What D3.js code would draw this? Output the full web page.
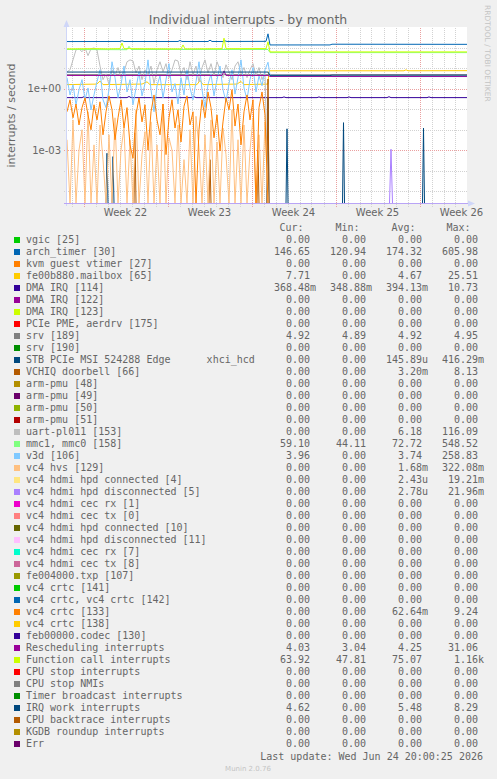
<!DOCTYPE html>
<html>
<head>
<meta charset="utf-8">
<script src="https://cdn.jsdelivr.net/npm/d3@7"></script>
<style>
body { margin: 0; background: #f0f0f0; }
svg { display: block; }
text { font-family: "DejaVu Sans", sans-serif; fill: #666; }
.mono { font-family: "DejaVu Sans Mono", monospace; font-size: 10px; white-space: pre; }
</style>
</head>
<body>
<svg width="497" height="779"></svg>
<script>
// legend rows, in munin order
const names = ["vgic [25]", "arch_timer [30]", "kvm guest vtimer [27]", "fe00b880.mailbox [65]", "DMA IRQ [114]",
  "DMA IRQ [122]", "DMA IRQ [123]", "PCIe PME, aerdrv [175]", "srv [189]", "srv [190]",
  "STB PCIe MSI 524288 Edge      xhci_hcd", "VCHIQ doorbell [66]", "arm-pmu [48]", "arm-pmu [49]", "arm-pmu [50]",
  "arm-pmu [51]", "uart-pl011 [153]", "mmc1, mmc0 [158]", "v3d [106]", "vc4 hvs [129]",
  "vc4 hdmi hpd connected [4]", "vc4 hdmi hpd disconnected [5]", "vc4 hdmi cec rx [1]", "vc4 hdmi cec tx [0]", "vc4 hdmi hpd connected [10]",
  "vc4 hdmi hpd disconnected [11]", "vc4 hdmi cec rx [7]", "vc4 hdmi cec tx [8]", "fe004000.txp [107]", "vc4 crtc [141]",
  "vc4 crtc, vc4 crtc [142]", "vc4 crtc [133]", "vc4 crtc [138]", "feb00000.codec [130]", "Rescheduling interrupts",
  "Function call interrupts", "CPU stop interrupts", "CPU stop NMIs", "Timer broadcast interrupts", "IRQ work interrupts",
  "CPU backtrace interrupts", "KGDB roundup interrupts", "Err"];

const curVals = ["0.00","146.65","0.00","7.71","368.48m","0.00","0.00","0.00","4.92","0.00",
  "0.00","0.00","0.00","0.00","0.00","0.00","0.00","59.10","3.96","0.00",
  "0.00","0.00","0.00","0.00","0.00","0.00","0.00","0.00","0.00","0.00",
  "0.00","0.00","0.00","0.00","4.03","63.92","0.00","0.00","0.00","4.62",
  "0.00","0.00","0.00"];
const minVals = ["0.00","120.94","0.00","0.00","348.88m","0.00","0.00","0.00","4.89","0.00",
  "0.00","0.00","0.00","0.00","0.00","0.00","0.00","44.11","0.00","0.00",
  "0.00","0.00","0.00","0.00","0.00","0.00","0.00","0.00","0.00","0.00",
  "0.00","0.00","0.00","0.00","3.04","47.81","0.00","0.00","0.00","0.00",
  "0.00","0.00","0.00"];
const avgVals = ["0.00","174.32","0.00","4.67","394.13m","0.00","0.00","0.00","4.92","0.00",
  "145.89u","3.20m","0.00","0.00","0.00","0.00","6.18","72.72","3.74","1.68m",
  "2.43u","2.78u","0.00","0.00","0.00","0.00","0.00","0.00","0.00","0.00",
  "0.00","62.64m","0.00","0.00","4.25","75.07","0.00","0.00","0.00","5.48",
  "0.00","0.00","0.00"];
const maxVals = ["0.00","605.98","0.00","25.51","10.73","0.00","0.00","0.00","4.95","0.00",
  "416.29m","8.13","0.00","0.00","0.00","0.00","116.09","548.52","258.83","322.08m",
  "19.21m","21.96m","0.00","0.00","0.00","0.00","0.00","0.00","0.00","0.00",
  "0.00","9.24","0.00","0.00","31.06","1.16k","0.00","0.00","0.00","8.29",
  "0.00","0.00","0.00"];

// munin colour cycle
const palette = ["#00CC00","#0066B3","#FF8000","#FFCC00","#330099","#990099","#CCFF00","#FF0000","#808080",
  "#008F00","#00487D","#B35A00","#B38F00","#6B006B","#8FB300","#B30000","#BEBEBE","#80FF80","#80C9FF",
  "#FFC080","#FFE680","#AA80FF","#EE00CC","#FF8080","#666600","#FFBFFF","#00FFCC","#CC6699","#999900"];

const colHeads = ["Cur:", "Min:", "Avg:", "Max:"];
const yLabels = [1, 1e-3];
const startTime = Date.UTC(2026, 4, 22, 15); // left edge of graph
const totalHours = 800;                       // 33 days 8 hours shown

// first part of the month (before the reboot) sampled every 6 hours
const sampleHours = 6;
const uartSamples = [6.8,8.5,26,80,90,65,100,42,90,100,
  80,13,2.8,5.4,1.6,8.5,4.3,11,3.5,6.8,
  21,26,23,6,13,2.8,8.5,4.8,13,1.8,
  8.5,21,6.8,17,3.5,8.5,26,23,5.4,11,
  2.8,21,4.8,13,2.2,11,26,6,17,4.3,
  21,8.5,3.5,15,6.8,2.8,13,21,5.4,11,
  3.5,8.5,17,4.3,11,2.8,6.8,0];
const v3dSamples = [3.5,0.5,1.6,0.165,0.9,2.8,0.29,1.1,0.094,0.5,
  2.2,8.5,0.29,0.12,0.9,21,3.5,0.36,1.6,13,
  0.7,2.8,0.165,1.1,6.8,0.45,1.8,26,0.9,0.075,
  1.4,4.3,0.36,2.8,17,0.7,1.8,0.18,3.5,0.5,
  8.5,1.1,0.29,2.2,21,0.9,0.12,1.6,5.4,0.45,
  2.8,13,0.9,0.23,1.8,8.5,0.55,3.5,26,1.1,
  0.29,2.8,11,0.7,4.3,1.4,8.5,20];
const crtc133Samples = [0.075,0.29,0.038,0.18,0.017,0.12,0.36,0.053,0.0099,0.165,
  0.03,0.23,0.0056,0.075,0.45,0.094,0.0032,0.038,0.29,0.012,
  0.12,0.0018,0.0004,0.053,0.36,0.024,0.165,0.001,0.075,0.5,
  0.03,0.0056,0.18,0.0006,0.038,0.29,0.012,0.094,0.0025,0.14,
  0.45,0.017,0.075,0,0.0099,0.29,0.038,0.7,0.12,0.004,
  0.053,0.0009,0.024,0.36,0.094,0.9,0.015,0.18,0.0018,0.075,
  0.5,0.03,0.29,0,0.12,0.7,0.053,0];
const hvsSamples = [0.0032,0,0.03,0,0.001,0.0099,0,0.075,0,0.0018,
  0,0.017,0.00034,0,0.0056,0,0.038,0,0.001,0.012,
  0,0.0032,0,0.094,0,0.00059,0.008,0,0.024,0,
  0.0018,0,0.18,0,0.004,0.001,0,0.017,0,0.00034,
  0,0.0099,0,0.045,0.0013,0,0.0056,0,0.03,0,
  0.0025,0,0.012,0.00059,0,0.094,0,0.0032,0,0.017,
  0,0.001,0.038,0,0.0056,0,0.024,0];

// smoother series as [hours from start, value]
const archTimer = [[0,205],[106,207],[110,225],[114,206],[222,207],[226,232],[230,207],[282,206],[286,240],[290,207],
  [312,206],[316,222],[320,207],[398,210],[402,490],[406,140],[526,140],[530,152],[800,150]];
const funcCall = [[0,90],[60,92],[80,90],[106,92],[110,175],[114,92],[228,90],[232,140],[236,90],[310,92],[314,300],
  [318,92],[398,93],[402,200],[406,64],[800,64]];
const mmc = [[0,84],[120,82],[124,120],[128,84],[402,84],[406,59],[800,59]];
const mailbox = [[0,1.6],[60,1.7],[66,2.4],[72,1.6],[150,1.7],[160,2.2],[166,1.6],[260,1.6],[266,2.6],[272,1.6],
  [340,1.7],[348,2.3],[354,1.6],[402,1.7],[404,7.6],[674,7.6],[678,8.5],[682,7.6],[800,7.7]];
const dma114 = [[0,0.37],[30,0.37],[34,0.41],[38,0.37],[120,0.37],[124,0.42],[128,0.37],[250,0.37],[254,0.41],[258,0.37],
  [430,0.37],[434,0.4],[438,0.37],[500,0.37],[504,0.4],[508,0.37],[560,0.37],[564,0.4],[568,0.37],[640,0.37],
  [644,0.41],[648,0.37],[720,0.37],[724,0.4],[728,0.37],[800,0.37]];
const srv189 = [[0,4.92],[800,4.92]];
const resched = [[0,4.5],[310,4.5],[314,7.5],[318,4.5],[402,4.5],[406,4.03],[800,4.03]];
const irqWork = [[0,6.6],[402,6.6],[406,4.4],[526,4.4],[530,4.62],[800,4.62]];
const v3dAfter = [[406,4.6],[526,4.6],[530,3.96],[800,3.96]];
// short bursts, zero elsewhere
const stbSpikes = [[80,0.0007],[92,0.00048],[402,0.4],[440,0.011],[553,0.022],[713,0.012]];
const vchiqSpikes = [[136,0.007],[286,0.00034],[382,0.001],[402,3]];
const hpdOffSpikes = [[648,0.0011]];

const svg = d3.select("svg");

const plotL = 67, plotR = 467, plotT = 27.5, plotB = 203.5;

const x = d3.scaleUtc()
  .domain([new Date(startTime), new Date(startTime + totalHours * 3600e3)])
  .range([plotL, plotR]);
const y = d3.scaleLog()
  .domain([2.43e-6, 1000])
  .range([plotB, plotT])
  .clamp(true);

const hourDate = h => new Date(startTime + h * 3600e3);
const yPos = v => v > 0 ? y(v) : plotB;

// canvas
svg.append("rect").attr("x", plotL).attr("y", 27).attr("width", 400).attr("height", 177).attr("fill", "#fff");

// grid
const grid = svg.append("g").attr("shape-rendering", "crispEdges");
d3.utcDay.range(x.domain()[0], x.domain()[1]).forEach(d => {
  const major = d.getUTCDay() === 0;
  const xp = Math.round(x(d)) + 0.5;
  grid.append("line")
    .attr("x1", xp).attr("x2", xp).attr("y1", plotT).attr("y2", plotB + 3)
    .attr("stroke", major ? "#eaa0a0" : "#d2d2d2")
    .attr("stroke-dasharray", "1,1");
});
d3.range(-5, 3).forEach(e => {
  const major = e % 3 === 0;
  const yp = Math.round(y(Math.pow(10, e))) + 0.5;
  grid.append("line")
    .attr("x1", plotL - 3).attr("x2", plotR).attr("y1", yp).attr("y2", yp)
    .attr("stroke", major ? "#eaa0a0" : "#d2d2d2")
    .attr("stroke-dasharray", "1,1");
});

// y tick labels
svg.selectAll(".ylab").data(yLabels).enter().append("text")
  .attr("x", 61).attr("y", d => y(d) + 3.6)
  .attr("text-anchor", "end").style("font-size", "10px")
  .text(d => d3.format(".0e")(d).replace(/e([+-])(\d)$/, "e$10$2"));

// week labels in the middle of each week
d3.utcSunday.range(new Date(startTime - 7 * 864e5), x.domain()[1]).forEach(d => {
  const mid = new Date(+d + 3.5 * 864e5);
  if (mid < x.domain()[0] || mid > x.domain()[1]) return;
  svg.append("text")
    .attr("x", x(mid)).attr("y", 216)
    .attr("text-anchor", "middle").style("font-size", "10px")
    .text(d3.utcFormat("Week %V")(mid));
});

// build point lists
const fromSamples = arr => arr.map((v, i) => [i * sampleHours, v]);
function spikeLine(spikes, half) {
  const pts = [[0, 0]];
  spikes.forEach(([h, v]) => pts.push([h - half, 0], [h, v], [h + half, 0]));
  pts.push([totalHours, 0]);
  return pts;
}

const series = [
  { i: 1, pts: archTimer },
  { i: 3, pts: mailbox },
  { i: 4, pts: dma114 },
  { i: 8, pts: srv189 },
  { i: 10, pts: spikeLine(stbSpikes, 2) },
  { i: 11, pts: spikeLine(vchiqSpikes, 2) },
  { i: 16, pts: fromSamples(uartSamples) },
  { i: 17, pts: mmc },
  { i: 18, pts: fromSamples(v3dSamples).concat(v3dAfter) },
  { i: 19, pts: fromSamples(hvsSamples) },
  { i: 21, pts: spikeLine(hpdOffSpikes, 3) },
  { i: 31, pts: fromSamples(crtc133Samples) },
  { i: 34, pts: resched },
  { i: 35, pts: funcCall },
  { i: 39, pts: irqWork }
];

svg.append("clipPath").attr("id", "plotclip")
  .append("rect").attr("x", plotL).attr("y", plotT - 1).attr("width", 400).attr("height", plotB - plotT + 1.5);

const line = d3.line()
  .x(d => x(hourDate(d[0])))
  .y(d => yPos(d[1]));

svg.append("g").attr("clip-path", "url(#plotclip)")
  .selectAll("path").data(series).enter().append("path")
  .attr("d", d => line(d.pts))
  .attr("fill", "none")
  .attr("stroke", d => palette[d.i % palette.length])
  .attr("stroke-width", 1);

// axes + arrows
const axisCol = "#cfd6f8";
svg.append("line").attr("x1", 66.5).attr("x2", 66.5).attr("y1", 26).attr("y2", 206).attr("stroke", axisCol);
svg.append("path").attr("d", "M63.5,27L69.5,27L66.5,20Z").attr("fill", axisCol);
svg.append("line").attr("x1", 64).attr("x2", 468).attr("y1", plotB).attr("y2", plotB).attr("stroke", "#b9a4f6");
svg.append("path").attr("d", "M468,200.5L468,206.5L475,203.5Z").attr("fill", axisCol);

// titles
svg.append("text").attr("x", 248).attr("y", 23.5).attr("text-anchor", "middle")
  .style("font-size", "12.5px").text("Individual interrupts - by month");
svg.append("text").attr("transform", "translate(14.5,115.5) rotate(-90)").attr("text-anchor", "middle")
  .style("font-size", "11px").text("interrupts / second");
svg.append("text").attr("transform", "translate(485,5) rotate(90)")
  .style("font-size", "7.5px").style("fill", "#c4c4c4").text("RRDTOOL / TOBI OETIKER");

// legend
const colX = [310, 366, 422, 478];
const headX = [279.5, 335.5, 391.5, 446.5];
svg.selectAll(".head").data(colHeads).enter().append("text")
  .attr("class", "mono").attr("x", (d, k) => headX[k]).attr("y", 231.3).text(d => d);

const cols = [curVals, minVals, avgVals, maxVals];
const rows = svg.append("g").selectAll("g").data(names).enter().append("g")
  .attr("transform", (d, k) => `translate(0,${12 * k})`);
rows.append("rect").attr("x", 14).attr("y", 237).attr("width", 6).attr("height", 6)
  .attr("fill", (d, k) => palette[k % palette.length]);
rows.append("text").attr("class", "mono").attr("x", 26).attr("y", 243.3).text(d => d);
rows.each(function(d, k) {
  const g = d3.select(this);
  cols.forEach((c, j) => {
    const m = c[k].match(/^([\d.]+)([a-zA-Z]?)$/);
    g.append("text").attr("class", "mono").attr("x", colX[j]).attr("y", 243.3)
      .attr("text-anchor", "end").text(m[1]);
    if (m[2]) g.append("text").attr("class", "mono").attr("x", colX[j]).attr("y", 243.3).text(m[2]);
  });
});

svg.append("text").attr("class", "mono").attr("x", 483).attr("y", 759.5).attr("text-anchor", "end")
  .text("Last update: Wed Jun 24 20:00:25 2026");
svg.append("text").attr("x", 248).attr("y", 770.5).attr("text-anchor", "middle")
  .style("font-size", "7px").style("fill", "#c4c4c4").text("Munin 2.0.76");
</script>
</body>
</html>
